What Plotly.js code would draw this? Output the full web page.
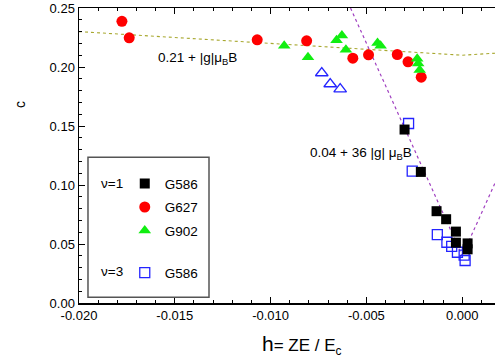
<!DOCTYPE html>
<html>
<head>
<meta charset="utf-8">
<script src="https://cdn.plot.ly/plotly-3.0.1.min.js"></script>
<style>html,body{margin:0;padding:0;background:#fff;}#chart{width:495px;height:360px;}</style>
</head>
<body>
<div id="chart"></div>
<script>
// G586, nu=1 (filled black squares)
var g586X = [-0.00301, -0.00216, -0.00134, -0.00084, -0.00033, -0.00033, 0.00028, 0.00028];
var g586Y = [0.1470, 0.1111, 0.0778, 0.0710, 0.0605, 0.0511, 0.0505, 0.0455];
// G627, nu=1 (red circles)
var g627X = [-0.01776, -0.01738, -0.01070, -0.00812, -0.00571, -0.00489, -0.00339, -0.00283, -0.00214];
var g627Y = [0.2387, 0.2247, 0.2230, 0.2222, 0.2075, 0.2103, 0.2106, 0.2044, 0.1914];
// G902, nu=1 (green triangles)
var g902X = [-0.00929, -0.00805, -0.00656, -0.00628, -0.00607, -0.00442, -0.00426, -0.00235, -0.00230, -0.00222];
var g902Y = [0.2181, 0.2082, 0.2226, 0.2266, 0.2147, 0.2203, 0.2181, 0.2070, 0.2030, 0.1975];
// G902, nu=3 (open blue triangles)
var g902n3X = [-0.00733, -0.00689, -0.00637];
var g902n3Y = [0.1949, 0.1856, 0.1813];
// G586, nu=3 (open blue squares)
var g586n3X = [-0.00280, -0.00261, -0.00130, -0.00080, -0.00055, -0.00025, 0.00010, 0.00015];
var g586n3Y = [0.1521, 0.1117, 0.0580, 0.0515, 0.0480, 0.0430, 0.0405, 0.0360];
// guide lines
var lineAX = [-0.020, 0.000, 0.002];
var lineAY = [0.230, 0.210, 0.212];
var lineBX = [-0.00583, 0.000, 0.002];
var lineBY = [0.250, 0.040, 0.112];
// axis ticks
var xTickVals = [-0.020, -0.015, -0.010, -0.005, 0.000];
var xTickText = ['-0.020', '-0.015', '-0.010', '-0.005', '0.000'];
var yTickVals = [0.00, 0.05, 0.10, 0.15, 0.20, 0.25];
var yTickText = ['0.00', '0.05', '0.10', '0.15', '0.20', '0.25'];

var FONT = 'Liberation Sans, Arial, sans-serif';
var blue = '#2424ff';

var traces = [
  {x: lineAX, y: lineAY, mode: 'lines', line: {color: '#a8a830', width: 1.1, dash: 'dot'}, showlegend: false, hoverinfo: 'skip'},
  {x: lineBX, y: lineBY, mode: 'lines', line: {color: '#a040c0', width: 1.2, dash: 'dot'}, showlegend: false, hoverinfo: 'skip'},
  {x: g586n3X, y: g586n3Y, mode: 'markers', name: 'G586', legend: 'legend2', legendgroup: 'd',
   marker: {symbol: 'square-open', size: 10, color: blue, line: {width: 1.3, color: blue}}},
  {x: g902n3X, y: g902n3Y, mode: 'markers', name: 'G902 n3', showlegend: false,
   marker: {symbol: 'triangle-up-open', size: 11, color: blue, line: {width: 1.3, color: blue}}},
  {x: g627X, y: g627Y, mode: 'markers', name: 'G627', legendgroup: 'b', legendrank: 2,
   marker: {symbol: 'circle', size: 11, color: '#ff0000'}},
  {x: g902X, y: g902Y, mode: 'markers', name: 'G902', legendgroup: 'c', legendrank: 3,
   marker: {symbol: 'triangle-up', size: 11, color: '#11ee11'}},
  {x: g586X, y: g586Y, mode: 'markers', name: 'G586', legendgroup: 'a', legendrank: 1,
   marker: {symbol: 'square', size: 10, color: '#000000'}}
];

var layout = {
  width: 495, height: 360,
  margin: {l: 79, r: 0, t: 8, b: 57, pad: 0},
  paper_bgcolor: '#ffffff', plot_bgcolor: '#ffffff',
  font: {family: FONT, size: 13, color: '#000'},
  showlegend: true,
  xaxis: {
    range: [-0.020, 0.00171], showgrid: false, zeroline: false,
    showline: true, linecolor: '#000', linewidth: 1.5, mirror: 'allticks',
    ticks: 'inside', ticklen: 6, tickwidth: 1, tickcolor: '#000',
    tickvals: xTickVals, ticktext: xTickText,
    minor: {dtick: 0.001, tick0: 0, ticks: 'inside', ticklen: 3, tickcolor: '#000', showgrid: false},
    tickfont: {size: 13}
  },
  yaxis: {
    range: [0, 0.25], showgrid: false, zeroline: false,
    showline: true, linecolor: '#000', linewidth: 1.5,
    ticks: 'inside', ticklen: 6, tickwidth: 1, tickcolor: '#000',
    tickvals: yTickVals, ticktext: yTickText,
    minor: {dtick: 0.01, tick0: 0, ticks: 'inside', ticklen: 3, tickcolor: '#000', showgrid: false},
    tickfont: {size: 13}
  },
  legend: {
    x: 0.11, xanchor: 'left', y: 0.457, yanchor: 'top',
    bgcolor: 'rgba(0,0,0,0)', borderwidth: 0, font: {size: 13.5},
    itemwidth: 30, tracegroupgap: 3, traceorder: 'grouped'
  },
  legend2: {
    x: 0.11, xanchor: 'left', y: 0.155, yanchor: 'top',
    bgcolor: 'rgba(0,0,0,0)', borderwidth: 0, font: {size: 13.5}, itemwidth: 30
  },
  shapes: [
    {type: 'rect', xref: 'paper', yref: 'paper', x0: 0.0216, x1: 0.3125, y0: 0.0193, y1: 0.4944,
     line: {color: '#555', width: 1.5}, fillcolor: 'rgba(0,0,0,0)'}
  ],
  annotations: [
    {xref: 'paper', yref: 'paper', x: 0.1855, y: 0.83, xanchor: 'left', yanchor: 'middle', showarrow: false,
     text: '0.21 + |g|\u03bc<sub>B</sub>B', font: {size: 13.5}},
    {xref: 'paper', yref: 'paper', x: 0.551, y: 0.508, xanchor: 'left', yanchor: 'middle', showarrow: false,
     text: '0.04 + 36 |g| \u03bc<sub>B</sub>B', font: {size: 13.5}},
    {xref: 'paper', yref: 'paper', x: 0.0793, y: 0.405, xanchor: 'center', yanchor: 'middle', showarrow: false,
     text: '\u03bd=1', font: {size: 13.5}},
    {xref: 'paper', yref: 'paper', x: 0.0793, y: 0.106, xanchor: 'center', yanchor: 'middle', showarrow: false,
     text: '\u03bd=3', font: {size: 13.5}},
    {xref: 'paper', yref: 'paper', x: 0.536, y: -0.1435, xanchor: 'center', yanchor: 'middle', showarrow: false,
     text: '<span style="font-size:21px">h</span>= ZE / E<sub>c</sub>', font: {size: 17}},
    {xref: 'paper', yref: 'paper', x: -0.1418, y: 0.671, xanchor: 'center', yanchor: 'middle', showarrow: false,
     text: 'c', textangle: -90, font: {size: 14}}
  ]
};

Plotly.newPlot('chart', traces, layout, {displayModeBar: false, staticPlot: true});
</script>
</body>
</html>
